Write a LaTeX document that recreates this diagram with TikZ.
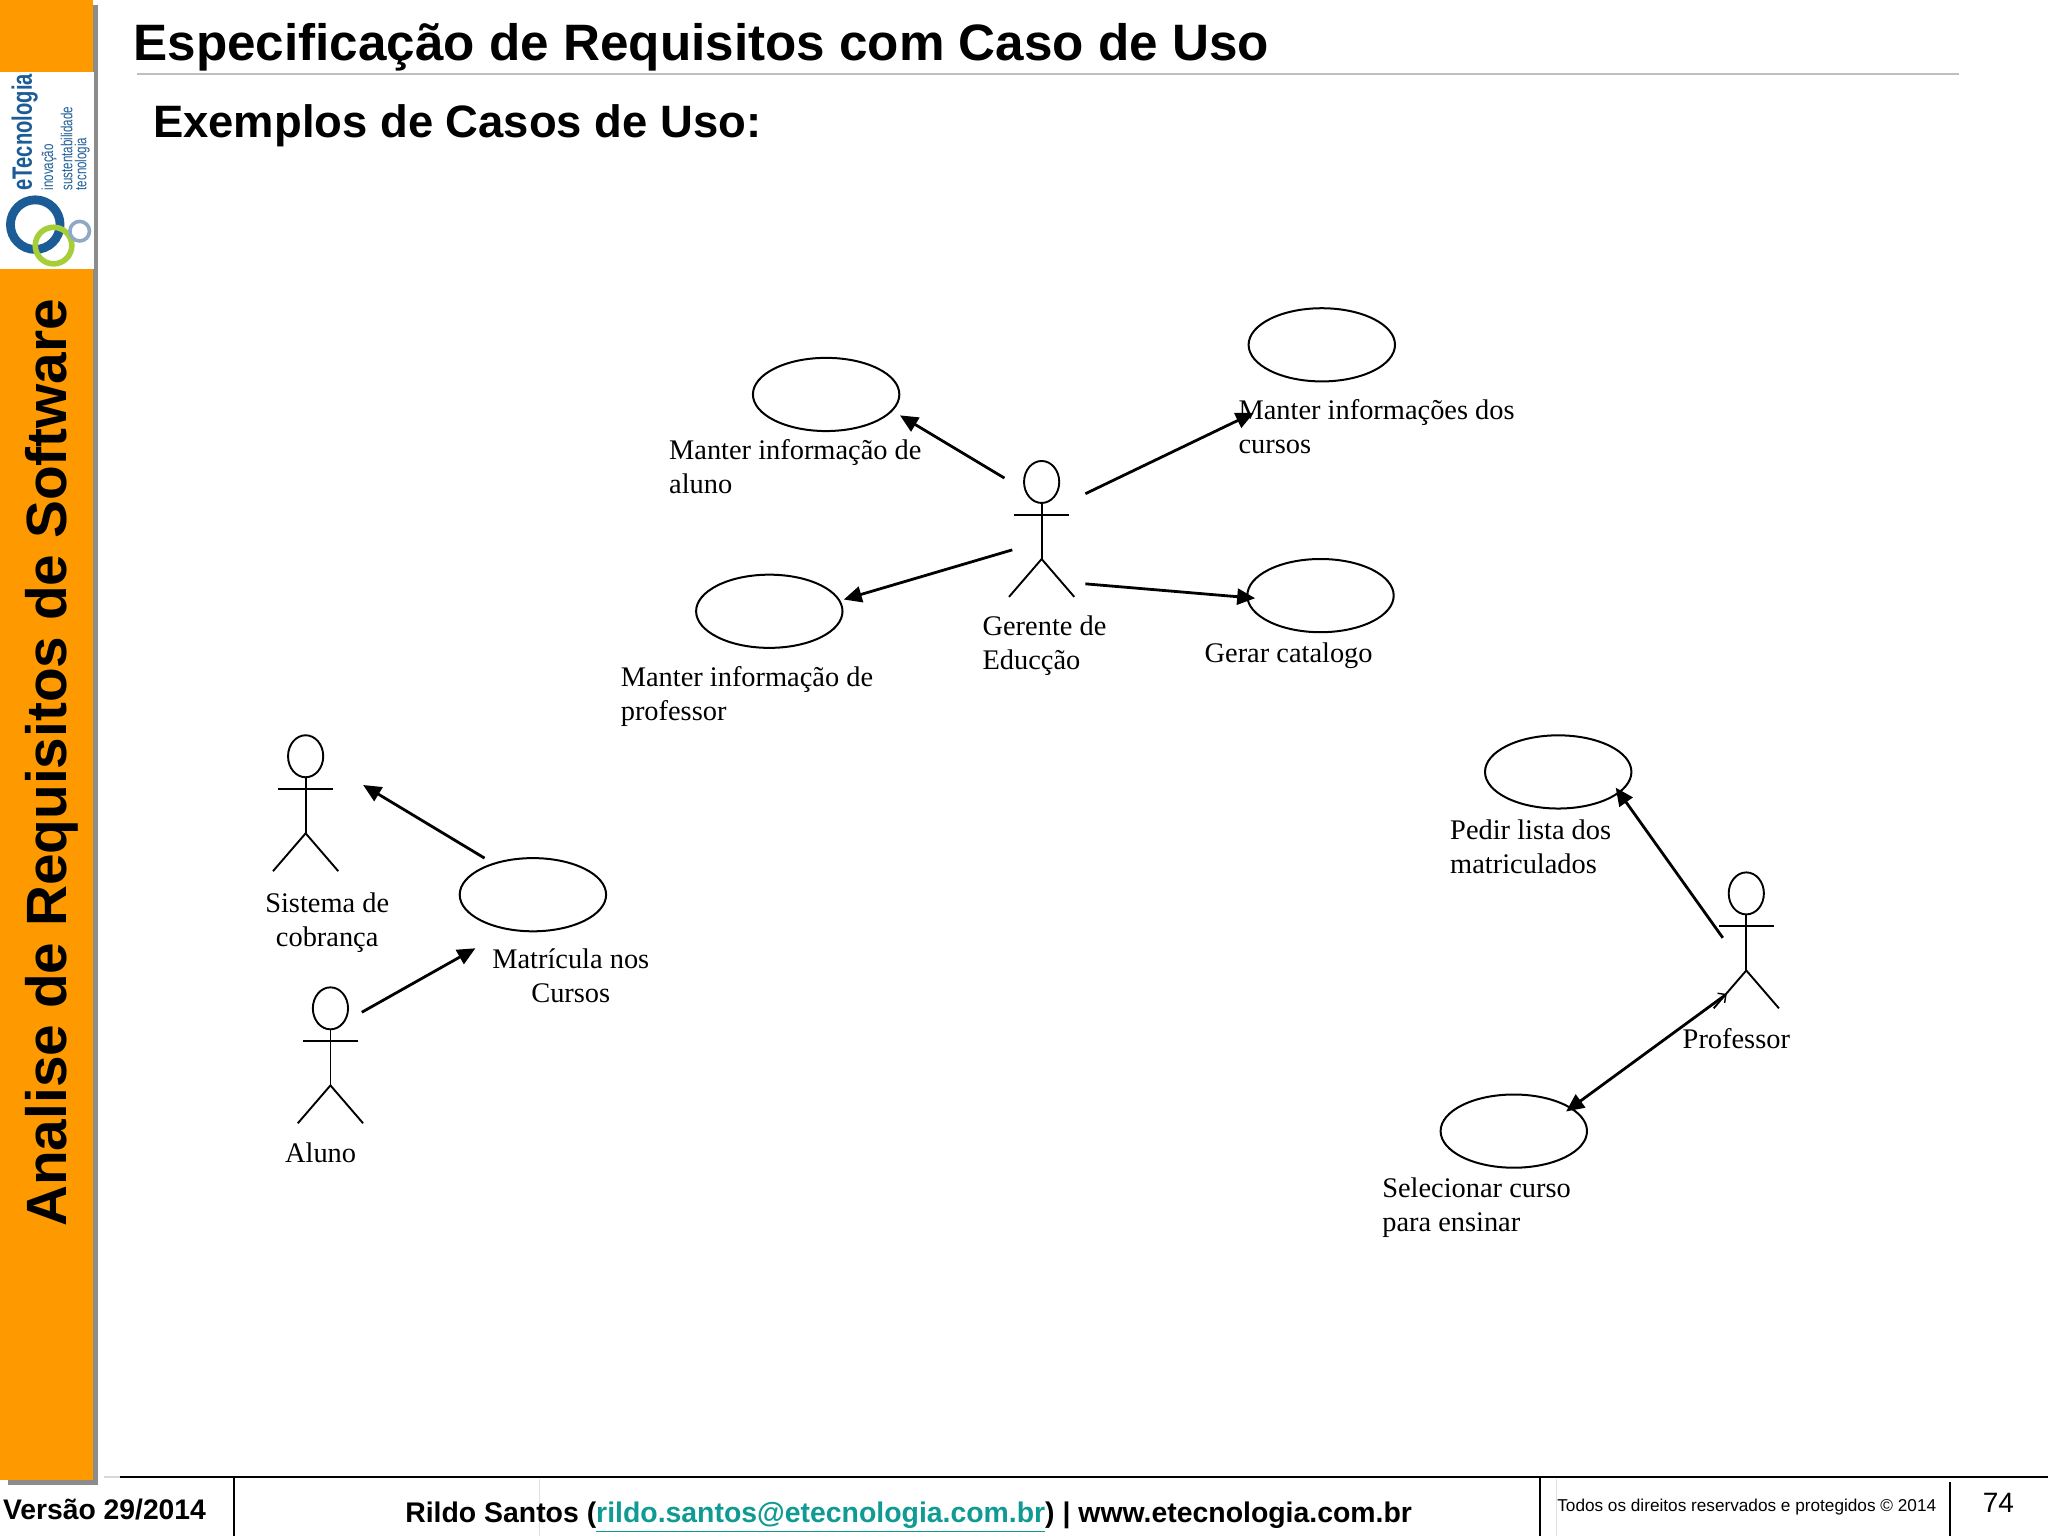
\documentclass[tikz,border=0pt]{standalone}
\usepackage{fontspec}
\setmainfont{Liberation Serif}
\newfontfamily\arialf{Liberation Sans}
\usetikzlibrary{arrows.meta,shapes.geometric}
\definecolor{barorange}{HTML}{FF9900}
\definecolor{barshadow}{HTML}{8C8C8C}
\definecolor{ringblue}{HTML}{1C5C96}
\definecolor{ringgreen}{HTML}{A6CE39}
\definecolor{ringgrey}{HTML}{8FA9C4}
\definecolor{linkteal}{HTML}{0F9A94}
\tikzset{
  x=0.653061pt,y=-0.653061pt,
  usecase/.style={draw,ellipse,line width=1pt,minimum width=73.2pt,minimum height=36.6pt,inner sep=0pt},
  assoc/.style={line width=1.4pt,-{Triangle[length=9pt,width=8pt]}},
  lbl/.style={font=\fontsize{14.2}{17}\selectfont,anchor=north west,inner sep=0pt,align=left},
  lblc/.style={font=\fontsize{14.2}{17}\selectfont,anchor=north,inner sep=0pt,align=center},
  limb/.style={line width=0.95pt},
  ftr/.style={font=\arialf\bfseries\fontsize{14.2}{17}\selectfont,inner sep=0pt},
  rule/.style={line width=0.8pt,black},
  faint/.style={line width=0.5pt,black!12},
  logotext/.style={rotate=90,anchor=west,inner sep=0pt,text=ringblue}
}
\newcommand{\actor}[3]{% name, x, head y
  \node[draw,ellipse,line width=0.95pt,minimum width=17.6pt,minimum height=21pt,inner sep=0pt] (#1) at (#2,#3) {};
  \coordinate (#1hip) at (#2,#3+59);
  \draw[limb] (#1.south) -- (#1hip);
  \draw[limb] (#2-21,#3+25) -- (#2+21,#3+25);
  \draw[limb] (#2-25,#3+88) -- (#1hip) -- (#2+25,#3+88);
}
\begin{document}
\begin{tikzpicture}
\useasboundingbox (0,0) rectangle (1568,1176);
% side bar
\fill[barshadow] (6,4) rectangle (75,1137);
\fill[barorange] (0,0) rectangle (71,1133);
\fill[white] (0,55) rectangle (72,206);
\node[rotate=90,anchor=west,inner sep=0pt,font=\arialf\bfseries\fontsize{28.4}{30}\selectfont] (bartitle) at (40,939.5) {Analise de Requisitos de Software};
% logo
\node[logotext,font=\arialf\bfseries\fontsize{14}{15}\selectfont] (logoname) at (19,146) {\scalebox{0.72}[1]{eTecnologia}};
\node[logotext,font=\arialf\fontsize{8}{9}\selectfont] (logo1) at (37.5,146) {\scalebox{0.72}[1]{inovação}};
\node[logotext,font=\arialf\fontsize{8}{9}\selectfont] (logo2) at (51,146) {\scalebox{0.72}[1]{sustentabilidade}};
\node[logotext,font=\arialf\fontsize{8}{9}\selectfont] (logo3) at (63,146) {\scalebox{0.72}[1]{tecnologia}};
\draw[ringblue,line width=4.4pt] (27,172) circle[radius=19];
\draw[ringgreen,line width=2.8pt] (41,188) circle[radius=14];
\draw[ringgrey,line width=1.8pt] (61,177) circle[radius=7.5];
% header
\node[anchor=base west,inner sep=0pt,font=\arialf\bfseries\fontsize{25.6}{28}\selectfont] (title) at (102,46) {Especificação de Requisitos com Caso de Uso};
\draw[black!25,line width=1pt] (105,57) -- (1500,57);
\node[anchor=base west,inner sep=0pt,font=\arialf\bfseries\fontsize{22.7}{26}\selectfont] (subtitle) at (117,105) {Exemplos de Casos de Uso:};
% use cases
\node[usecase] (aluno) at (632.5,302) {};
\node[usecase] (cursos) at (1012,264) {};
\node[usecase] (prof) at (589,468) {};
\node[usecase] (catalogo) at (1011,456) {};
\node[usecase] (pedir) at (1193,591) {};
\node[usecase] (matricula) at (408,685) {};
\node[usecase] (selecionar) at (1159,866) {};
% actors
\actor{gerente}{797.5}{369}
\actor{sistema}{234}{579}
\actor{alunoact}{253}{772}
\actor{professor}{1337}{684}
% labels
\node[lbl] (t1) at (512,336) {Manter informação de\\aluno};
\node[lbl] (t2) at (948,305.5) {Manter informações dos\\cursos};
\node[lbl] (t3) at (475,510) {Manter informação de\\professor};
\node[lbl] (t4) at (752,471.5) {Gerente de\\Educção};
\node[lbl] (t5) at (922,491.5) {Gerar catalogo};
\node[lblc] (t6) at (250.5,683.5) {Sistema de\\cobrança};
\node[lblc] (t7) at (437,726) {Matrícula nos\\Cursos};
\node[lbl] (t8) at (218,875) {Aluno};
\node[lbl] (t9) at (1110,627) {Pedir lista dos\\matriculados};
\node[lbl] (t10) at (1288,787.5) {Professor};
\node[lbl] (t11) at (1058,901.5) {Selecionar curso\\para ensinar};
% connector ends
\coordinate (g1) at (769,366);
\coordinate (g2) at (831,378);
\coordinate (g3) at (775,421);
\coordinate (g4) at (831,447);
\coordinate (e1) at (689,318);
\coordinate (e2) at (960,316);
\coordinate (e3) at (646,459);
\coordinate (e4) at (961,458);
\coordinate (m1) at (371,657);
\coordinate (s1) at (278,601);
\coordinate (a1) at (277,775);
\coordinate (m2) at (364,726);
\coordinate (p1) at (1319,718);
\coordinate (e5) at (1237,603);
\coordinate (p2) at (1322,761);
\coordinate (e7) at (1199,851);
\draw[assoc] (g1) -- (e1);
\draw[assoc] (g2) -- (e2);
\draw[assoc] (g3) -- (e3);
\draw[assoc] (g4) -- (e4);
\draw[assoc] (m1) -- (s1);
\draw[assoc] (a1) -- (m2);
\draw[assoc] (p1) -- (e5);
\draw[assoc,{Straight Barb[length=3pt,width=6pt,line width=0.7pt]}-{Triangle[length=9pt,width=8pt]}] (p2) -- (e7);
% footer
\draw[faint] (413,1132) -- (413,1176);
\draw[faint] (1192,1132) -- (1192,1176);
\draw[black!15,line width=1pt] (80,1131) -- (92,1131);
\draw[black,line width=1pt] (92,1131) -- (1568,1131);
\draw[rule] (179,1131) -- (179,1176);
\draw[rule] (1179,1131) -- (1179,1176);
\draw[rule] (1493,1135) -- (1493,1176);
\node[ftr,anchor=base west,font=\arialf\bfseries\fontsize{14.15}{17}\selectfont] (ver) at (2,1163) {Versão 29/2014};
\node[ftr,anchor=base west] (rildo) at (310,1166) {Rildo Santos (\textcolor{linkteal}{\underline{rildo.santos@etecnologia.com.br}}) | www.etecnologia.com.br};
\node[anchor=base west,inner sep=0pt,font=\arialf\fontsize{8.6}{10}\selectfont] (rights) at (1192,1157) {Todos os direitos reservados e protegidos © 2014};
\node[anchor=base,inner sep=0pt,font=\arialf\fontsize{14}{16}\selectfont] (page) at (1530,1158) {74};
\end{tikzpicture}
\end{document}
